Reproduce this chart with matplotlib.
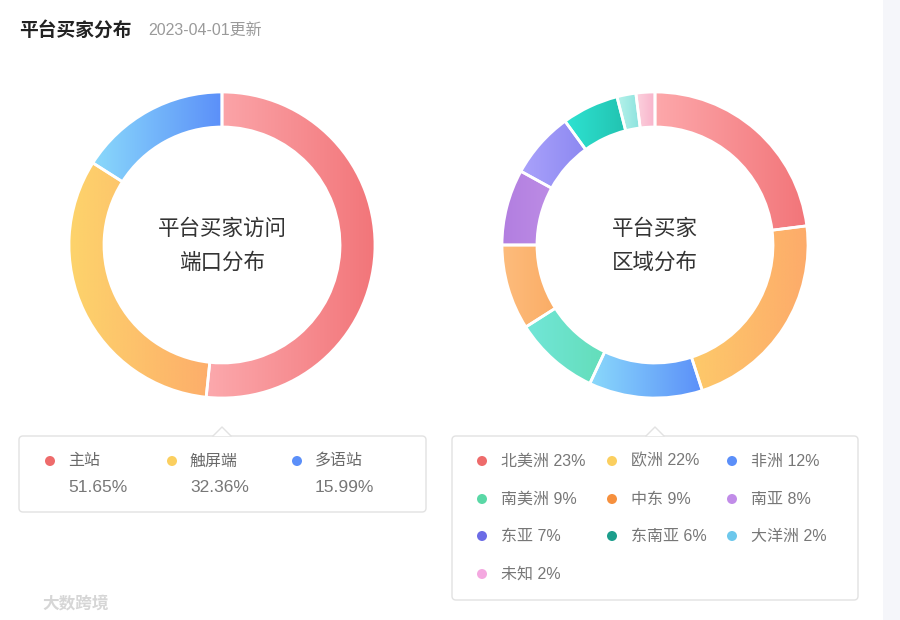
import numpy as np
import matplotlib
matplotlib.use('Agg')
import matplotlib.pyplot as plt
from matplotlib.colors import LinearSegmentedColormap
from matplotlib.patches import FancyBboxPatch, Polygon, Circle
from matplotlib.lines import Line2D

plt.rcParams['font.family'] = ['Liberation Sans', 'Noto Sans CJK SC', 'DejaVu Sans']
CJK = ['Noto Sans CJK SC', 'DejaVu Sans']

# ---- data ----
port_labels = ['主站', '触屏端', '多语站']
port_values = [51.65, 32.36, 15.99]
port_dot_colors = ['#ee6b6b', '#fbcf5f', '#5b8ff9']
port_grad = [('#fca9ad', '#f27579'), ('#fdd46c', '#fdaa6a'), ('#8ad9fb', '#5b8ff9')]

region_labels = ['北美洲', '欧洲', '非洲', '南美洲', '中东', '南亚', '东亚', '东南亚', '大洋洲', '未知']
region_values = [23, 22, 12, 9, 9, 8, 7, 6, 2, 2]
region_dot_colors = ['#ee6b6b', '#fbcf5f', '#5b8ff9', '#5ad8a6', '#f6903d',
                     '#c18ce8', '#6c6ce6', '#1c9e8c', '#6dc8ec', '#f4a8e0']
region_grad = [('#fda8ab', '#f27579'), ('#fdd36a', '#fdaa6a'), ('#8ad9fb', '#5b8ff9'),
               ('#72e6d8', '#5ad8a6'), ('#fdbc7c', '#f6903d'), ('#b27ee0', '#d2aaf0'),
               ('#aaa2fb', '#6c6ce6'), ('#2ee3d2', '#1cb3a0'), ('#b6f2ea', '#6fd8d6'),
               ('#fcd2de', '#f8b2ca')]

W, H = 900, 620
fig = plt.figure(figsize=(9, 6.2), dpi=100)
ax = fig.add_axes([0, 0, 1, 1])


def Y(py):
    return H - py


# right grey strip
ax.add_patch(plt.Rectangle((883, 0), 17, H, facecolor='#f5f6fa', edgecolor='none', zorder=0))

R_OUT, RING = 153, 35


def donut(values, grads, cx, cy):
    wedges, _ = ax.pie(values, center=(cx, Y(cy)), radius=R_OUT, startangle=90,
                       counterclock=False,
                       wedgeprops=dict(width=RING, edgecolor='white', linewidth=2))
    for w, (c1, c2) in zip(wedges, grads):
        verts = w.get_path().vertices
        x0, x1 = verts[:, 0].min(), verts[:, 0].max()
        y0, y1 = verts[:, 1].min(), verts[:, 1].max()
        cmap = LinearSegmentedColormap.from_list('g', [c1, c2])
        im = ax.imshow(np.linspace(0, 1, 256).reshape(1, -1), cmap=cmap,
                       extent=(x0, x1, y0, y1), aspect='auto',
                       interpolation='bilinear', zorder=2)
        im.set_clip_path(w)
        w.set_facecolor('none')
        w.set_zorder(3)


donut(port_values, port_grad, 222, 245)
donut(region_values, region_grad, 655, 245)

# centre labels
for x, lines in [(222, ['平台买家访问', '端口分布']), (655, ['平台买家', '区域分布'])]:
    ax.text(x, Y(229), lines[0], ha='center', va='center', fontsize=15.5,
            color='#333333', family=CJK)
    ax.text(x, Y(263), lines[1], ha='center', va='center', fontsize=15.5,
            color='#333333', family=CJK)

# title
ax.text(19, Y(30), '平台买家分布', ha='left', va='center', fontsize=13.5,
        fontweight='bold', color='#222222', family=CJK)
ax.text(148, Y(30), '2023-04-01更新', ha='left', va='center', fontsize=11.5, color='#9a9a9a')


def legend_box(x0, x1, top, bottom, px):
    box = FancyBboxPatch((x0, Y(bottom)), x1 - x0, bottom - top,
                         boxstyle='round,pad=0,rounding_size=4',
                         facecolor='white', edgecolor='#e2e2e2', linewidth=1, zorder=4)
    ax.add_patch(box)
    pts = [(px - 9, Y(top)), (px, Y(top - 9)), (px + 9, Y(top))]
    ax.add_patch(Polygon(pts, closed=True, facecolor='white', edgecolor='none', zorder=5))
    ax.add_line(Line2D([p[0] for p in pts], [p[1] for p in pts],
                       color='#e2e2e2', linewidth=1, zorder=6))


legend_box(19, 426, 436, 512, 222)
legend_box(452, 858, 436, 600, 655)

# left legend
dot_x = [50, 172, 297]
for i, lab in enumerate(port_labels):
    ax.add_patch(Circle((dot_x[i], Y(461)), 5, facecolor=port_dot_colors[i],
                        edgecolor='none', zorder=7))
    ax.text(dot_x[i] + 18, Y(461), lab, ha='left', va='center', fontsize=11.5,
            color='#6a6a6a', zorder=7)
    ax.text(dot_x[i] + 18, Y(487), f'{port_values[i]:.2f}%', ha='left', va='center',
            fontsize=12.5, color='#777777', zorder=7)

# right legend
col_x = [482, 612, 732]
row_y = [461, 499, 536, 574]
for i, lab in enumerate(region_labels):
    cx = col_x[i % 3]
    cy = row_y[i // 3]
    ax.add_patch(Circle((cx, Y(cy)), 5, facecolor=region_dot_colors[i],
                        edgecolor='none', zorder=7))
    ax.text(cx + 19, Y(cy), f'{lab} {region_values[i]}%', ha='left', va='center',
            fontsize=11.5, color='#777777', zorder=7)

# watermark
ax.text(42, Y(603), '大数跨境', ha='left', va='center', fontsize=12,
        fontweight='bold', color='#d6d6d6', family=CJK)

ax.set_xlim(0, W)
ax.set_ylim(0, H)
ax.set_aspect('auto')
ax.axis('off')

fig.savefig('out.png', dpi=100, facecolor='white')
